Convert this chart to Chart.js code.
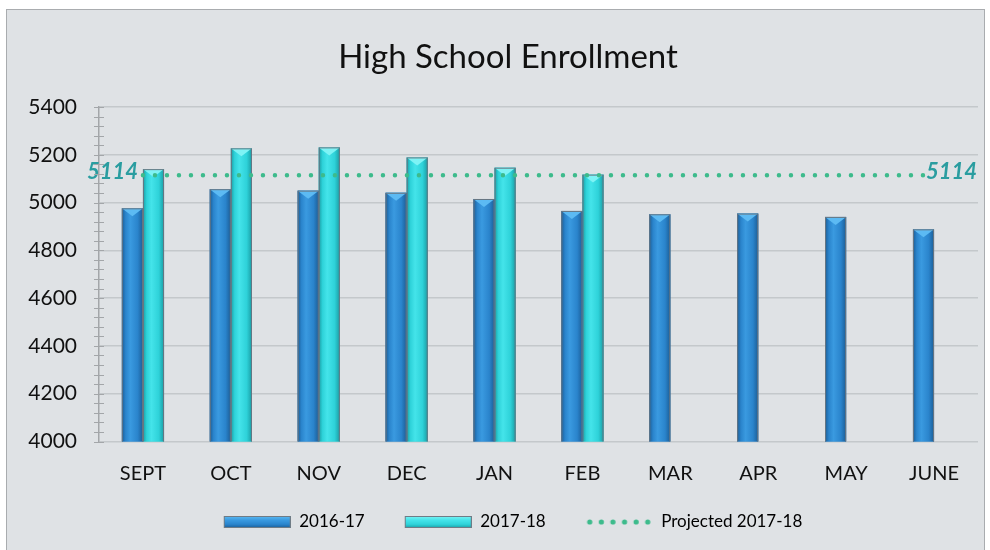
<!DOCTYPE html>
<html>
<head>
<meta charset="utf-8">
<script src="https://cdn.jsdelivr.net/npm/chart.js@4"></script>
<style>
  html, body { margin: 0; padding: 0; background: #ffffff; }
  #wrap { position: absolute; left: 0; top: 0; width: 990px; height: 550px; }
</style>
</head>
<body>
<div id="wrap"><canvas id="c" width="990" height="550"></canvas></div>
<script>
// ---- data ----
const categories = ['SEPT', 'OCT', 'NOV', 'DEC', 'JAN', 'FEB', 'MAR', 'APR', 'MAY', 'JUNE'];
const enrollment2016 = [4976, 5056, 5050, 5041, 5015, 4965, 4951, 4954, 4940, 4888];
const enrollment2017 = [5140, 5227, 5231, 5189, 5146, 5117, null, null, null, null];
const projected2017 = [5114, 5114, 5114, 5114, 5114, 5114, 5114, 5114, 5114, 5114];
const seriesNames = ['2016-17', '2017-18', 'Projected 2017-18'];
const yMin = 4000, yMax = 5400, yStep = 200, yMinorStep = 40;

// ---- styles ----
const BLUE = { base: '#2a84cc', dark: '#1b5d96', light: '#3a9ae0', cap: '#5cbaf3' };
const CYAN = { base: '#2ed2d9', dark: '#1a9da4', light: '#44e4ea', cap: '#7ef3f5' };
const DOT = '#3dbb8c';
const LABEL = '#2a9da0';
const LEG_GAP = 12;

function legendBar(col) {
  const c = document.createElement('canvas');
  c.width = 67 + LEG_GAP; c.height = 12;
  const x = c.getContext('2d');
  x.translate(LEG_GAP, 0);
  const g = x.createLinearGradient(0, 0, 0, 12);
  g.addColorStop(0, col.cap); g.addColorStop(0.35, col.light); g.addColorStop(0.7, col.base); g.addColorStop(1, col.dark);
  x.fillStyle = g; x.fillRect(0, 0, 67, 12);
  x.strokeStyle = '#6f7c86'; x.lineWidth = 1; x.strokeRect(0.5, 0.5, 66, 11);
  return c;
}
function legendDots() {
  const c = document.createElement('canvas');
  c.width = 67 + LEG_GAP; c.height = 12;
  const x = c.getContext('2d');
  x.translate(LEG_GAP, 0);
  x.fillStyle = DOT;
  for (let i = 0; i < 6; i++) { x.beginPath(); x.arc(4 + i * 11.6, 6, 2.6, 0, Math.PI * 2); x.fill(); }
  return c;
}
const legendImgs = [legendBar(BLUE), legendBar(CYAN), legendDots()];

const framePlugin = {
  id: 'frame',
  afterLayout(chart) {
    if (chart.titleBlock) { chart.titleBlock.left += 6; chart.titleBlock.right += 6; }
    if (chart.legend) { chart.legend.left += 5; chart.legend.right += 5; }
  },
  beforeDraw(chart) {
    const ctx = chart.ctx;
    ctx.save();
    ctx.fillStyle = '#ffffff'; ctx.fillRect(0, 0, 990, 550);
    ctx.fillStyle = '#dfe2e5'; ctx.fillRect(6, 9, 979, 545);
    ctx.strokeStyle = '#a9acaf'; ctx.lineWidth = 1; ctx.strokeRect(6.5, 9.5, 978, 545);
    ctx.restore();
  },
  afterDraw(chart) {
    const y = chart.scales.y, ctx = chart.ctx;
    const ax = chart.chartArea.left;
    ctx.save();
    ctx.strokeStyle = '#a3a6a9'; ctx.lineWidth = 1;
    for (let v = yMin; v <= yMax; v += yMinorStep) {
      const py = Math.round(y.getPixelForValue(v)) + 0.5;
      ctx.beginPath(); ctx.moveTo(ax - 5, py); ctx.lineTo(ax + 5, py); ctx.stroke();
    }
    ctx.restore();
  }
};

const barLook = {
  id: 'barLook',
  afterDatasetDraw(chart, args) {
    const meta = args.meta;
    if (meta.type !== 'bar') return;
    const ds = chart.data.datasets[args.index];
    const col = args.index === 0 ? BLUE : CYAN;
    const ctx = chart.ctx;
    const a = chart.chartArea;
    ctx.save();
    ctx.beginPath(); ctx.rect(a.left, a.top, a.right - a.left, a.bottom - a.top); ctx.clip();
    meta.data.forEach((bar, i) => {
      if (ds.data[i] == null) return;
      const p = bar.getProps(['x', 'y', 'base', 'width'], true);
      const l = p.x - p.width / 2, r = p.x + p.width / 2;
      const g = ctx.createLinearGradient(l, 0, r, 0);
      g.addColorStop(0, col.dark); g.addColorStop(0.18, col.base); g.addColorStop(0.4, col.light);
      g.addColorStop(0.75, col.base); g.addColorStop(1, col.dark);
      ctx.fillStyle = g; ctx.fillRect(l, p.y, p.width, p.base - p.y);
      ctx.fillStyle = col.cap;
      ctx.beginPath(); ctx.moveTo(l, p.y); ctx.lineTo(r, p.y); ctx.lineTo(p.x, p.y + 8); ctx.closePath(); ctx.fill();
      ctx.strokeStyle = '#687682'; ctx.lineWidth = 1;
      ctx.strokeRect(l + 0.5, p.y + 0.5, p.width - 1, p.base - p.y - 1);
    });
    ctx.restore();
  }
};

const endLabels = {
  id: 'endLabels',
  afterDatasetsDraw(chart) {
    const meta = chart.getDatasetMeta(2);
    const pts = meta.data;
    const ctx = chart.ctx;
    ctx.save();
    ctx.font = 'italic bold 22px Lato';
    ctx.fillStyle = LABEL;
    ctx.textBaseline = 'middle';
    const first = pts[0], last = pts[pts.length - 1];
    ctx.textAlign = 'right';
    ctx.fillText(String(projected2017[0]), first.x - 5, first.y - 3);
    ctx.textAlign = 'left';
    ctx.fillText(String(projected2017[projected2017.length - 1]), last.x - 8, last.y - 3);
    ctx.restore();
  }
};

new Chart(document.getElementById('c'), {
  type: 'bar',
  data: {
    labels: categories,
    datasets: [
      { label: seriesNames[0], data: enrollment2016, backgroundColor: BLUE.base, borderWidth: 0, order: 0,
        categoryPercentage: 0.48, barPercentage: 1.0 },
      { label: seriesNames[1], data: enrollment2017, backgroundColor: CYAN.base, borderWidth: 0, order: 0,
        categoryPercentage: 0.48, barPercentage: 1.0 },
      { type: 'line', label: seriesNames[2], data: projected2017, borderColor: DOT, backgroundColor: DOT,
        borderWidth: 4.5, borderDash: [0, 12], borderCapStyle: 'round', pointRadius: 0, fill: false, order: -1 }
    ]
  },
  options: {
    responsive: false,
    animation: false,
    events: [],
    layout: { padding: { left: 26, right: 12, top: 0, bottom: 9.5 } },
    plugins: {
      title: {
        display: true, text: 'High School Enrollment', color: '#111111',
        font: { family: 'Lato', size: 33, weight: 'normal' },
        padding: { top: 37.2, bottom: 30.2 }
      },
      legend: {
        position: 'bottom',
        labels: {
          color: '#111111', font: { family: 'Lato', size: 17 },
          usePointStyle: true, pointStyleWidth: 67 + LEG_GAP, boxHeight: 12, padding: 28,
          generateLabels(chart) {
            return chart.data.datasets.map((d, i) => ({
              text: d.label, pointStyle: legendImgs[i], datasetIndex: i,
              fillStyle: 'transparent', strokeStyle: 'transparent', lineWidth: 0, hidden: false
            }));
          }
        }
      },
      tooltip: { enabled: false }
    },
    scales: {
      x: {
        offset: true,
        grid: { display: false, drawTicks: false },
        border: { display: false },
        ticks: { color: '#111111', font: { family: 'Lato', size: 20 }, padding: 20 },
        afterFit(s) { s.height = 44; }
      },
      y: {
        min: yMin, max: yMax,
        ticks: { stepSize: yStep, color: '#111111', font: { family: 'Lato', size: 21 }, padding: 22,
                 callback: (v) => String(v) },
        grid: { color: '#c4c8cb', lineWidth: 1.5, drawTicks: false },
        border: { display: true, color: '#a3a6a9', width: 1.5 },
        afterFit(s) { s.width = 73; }
      }
    }
  },
  plugins: [framePlugin, barLook, endLabels]
});
</script>
</body>
</html>
